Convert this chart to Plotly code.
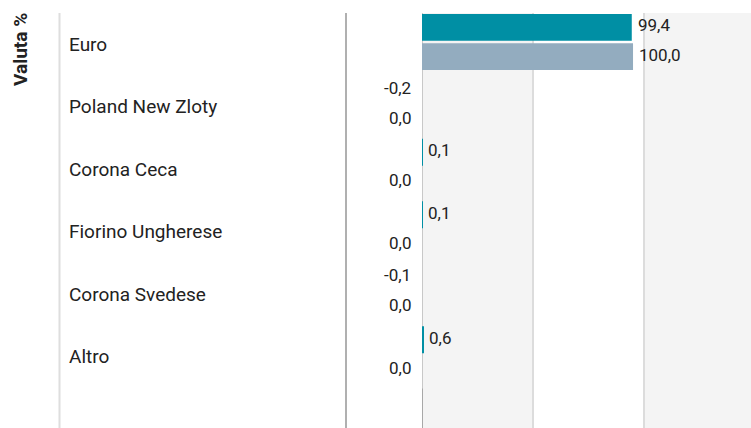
import plotly.graph_objects as go

# ---- data ----
categories = ["Euro", "Poland New Zloty", "Corona Ceca", "Fiorino Ungherese", "Corona Svedese", "Altro"]
fund_values = [99.4, -0.2, 0.1, 0.1, -0.1, 0.6]
benchmark_values = [100.0, 0.0, 0.0, 0.0, 0.0, 0.0]
series_names = ["Fondo", "Benchmark"]
axis_title = "Valuta %"

W, H = 751, 428
FONT = "Roboto"

def fmt(v):
    return f"{v:.1f}".replace(".", ",")

fig = go.Figure()
bar_w = 0.43
fig.add_trace(go.Bar(
    y=categories, x=fund_values, orientation="h", name=series_names[0],
    marker=dict(color="#008fa4", line=dict(width=0)),
    width=bar_w, offset=-0.45, showlegend=False, hoverinfo="skip"))
fig.add_trace(go.Bar(
    y=categories, x=benchmark_values, orientation="h", name=series_names[1],
    marker=dict(color="#93acbf", line=dict(width=0)),
    width=bar_w, offset=0.02, showlegend=False, hoverinfo="skip"))

annotations = []
# value labels
for vals, ysh in ((fund_values, 16.6), (benchmark_values, -13.2)):
    for c, v in zip(categories, vals):
        if v > 0:
            annotations.append(dict(x=v, y=c, xref="x", yref="y", text=fmt(v),
                                    xanchor="left", yanchor="middle", xshift=4, yshift=ysh,
                                    showarrow=False, font=dict(family=FONT, size=17, color="#222222")))
        else:
            annotations.append(dict(x=0, y=c, xref="x", yref="y", text=fmt(v),
                                    xanchor="right", yanchor="middle", xshift=-9, yshift=ysh,
                                    showarrow=False, font=dict(family=FONT, size=17, color="#222222")))
# category labels
for c in categories:
    annotations.append(dict(x=67 / W, y=c, xref="paper", yref="y", text=c,
                            xanchor="left", yanchor="middle", yshift=-2,
                            showarrow=False, font=dict(family=FONT, size=19, color="#222222")))
# axis title
annotations.append(dict(x=21 / W, y=1 - (50 - 13) / (H - 13), xref="paper", yref="paper",
                        text="<b>" + axis_title + "</b>", textangle=-90,
                        xanchor="center", yanchor="middle", showarrow=False,
                        font=dict(family=FONT, size=19, color="#222222")))

band = 52.5
shapes = [
    dict(type="rect", xref="x", yref="paper", x0=0, x1=band, y0=0, y1=1,
         fillcolor="#f4f4f4", line=dict(width=0), layer="below"),
    dict(type="rect", xref="x", yref="paper", x0=2 * band, x1=3 * band, y0=0, y1=1,
         fillcolor="#f4f4f4", line=dict(width=0), layer="below"),
    dict(type="line", xref="x", yref="y", x0=0, x1=0, y0=-0.47, y1=5.54,
         line=dict(color="#c8c8c8", width=2), layer="below"),
    dict(type="line", xref="x", yref="y", x0=0, x1=0, y0=5.54, y1=6.3,
         line=dict(color="#a8a8a8", width=2), layer="below"),
    dict(type="line", xref="paper", yref="paper", x0=346 / W, x1=346 / W, y0=0, y1=1,
         line=dict(color="#b0b0b0", width=2)),
    dict(type="line", xref="paper", yref="paper", x0=59.5 / W, x1=59.5 / W, y0=0, y1=1,
         line=dict(color="#dedede", width=2)),
]

fig.update_layout(
    width=W, height=H, autosize=False,
    margin=dict(l=0, r=0, t=13, b=0, pad=0),
    paper_bgcolor="white", plot_bgcolor="white",
    barmode="group",
    annotations=annotations, shapes=shapes,
    xaxis=dict(domain=[422 / W, 1], range=[0, 155.9], tickvals=[band, 2 * band],
               showticklabels=False, showgrid=True, gridcolor="#dcdcdc", gridwidth=2,
               zeroline=False, showline=False, ticks=""),
    yaxis=dict(type="category", categoryorder="array", categoryarray=categories,
               range=[6.176, -0.464], showticklabels=False, showgrid=False,
               zeroline=False, showline=False, ticks=""),
    showlegend=False,
)

fig.write_html("out.html", post_script="document.body.style.margin='0';",
               config={"displayModeBar": False})
